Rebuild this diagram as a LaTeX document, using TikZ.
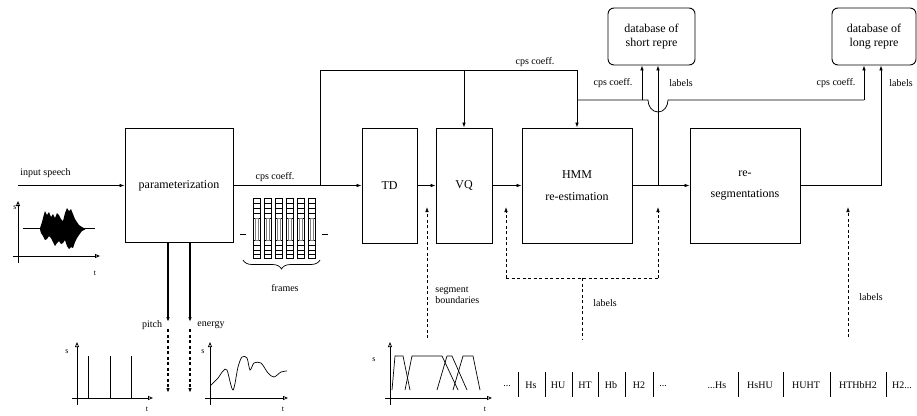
\documentclass[tikz,border=0pt]{standalone}
\usepackage{fontspec}
\setmainfont{Liberation Serif}
\usetikzlibrary{arrows.meta,decorations.pathreplacing,positioning}
\begin{document}
\begin{tikzpicture}[x=1pt,y=-1pt,
  line width=0.75pt,
  box/.style={draw,line width=0.9pt,inner sep=1pt,align=center,font=\fontsize{12}{13.5}\selectfont},
  dbbox/.style={box,rounded corners=6pt},
  lbl/.style={inner sep=0pt,align=left,font=\fontsize{10}{11.5}\selectfont},
  tiny/.style={inner sep=0pt,font=\fontsize{8}{9}\selectfont},
  arr/.style={-{Latex[length=5pt,width=3.6pt]}},
  dsh/.style={dash pattern=on 3pt off 2.5pt},
  axarr/.style={-{Triangle[open,length=5pt,width=4pt]}},
  seq/.style={inner sep=0pt,font=\fontsize{10}{11}\selectfont}
]
\useasboundingbox (0,0) rectangle (917,415);

% ---- main boxes
\node[box,minimum width=108pt,minimum height=114pt] (param) at (179,185.5) {parameterization};
\node[box,minimum width=55pt,minimum height=115pt] (TD) at (389.5,185.5) {TD};
\node[box,minimum width=56pt,minimum height=115pt] (VQ) at (464,185.5) {VQ};
\node[box,minimum width=110pt,minimum height=115pt] (HMM) at (577,185.5) {HMM\\[8pt]re-estimation};
\node[box,minimum width=110pt,minimum height=115pt] (reseg) at (745,185.5) {re-\\[8pt]segmentations};
\node[dbbox,minimum width=87pt,minimum height=57pt] (short) at (651.5,36.5) {database of\\short repre};
\node[dbbox,minimum width=84pt,minimum height=57pt] (long) at (874,36.5) {database of\\long repre};

% ---- main flow
\coordinate (in) at (18,185.5);
\draw[arr] (in) -- (param.west);
\node[lbl] (linput) at (45.5,173) {input speech};
\draw[arr] (param.east) -- (TD.west);
\node[lbl] (lcps1) at (275,177) {cps coeff.};
\draw[arr] (TD.east) -- (VQ.west);
\draw[arr] (VQ.east) -- (HMM.west);
\draw[arr] (HMM.east) -- (reseg.west);

% ---- top cps line
\coordinate (j1) at (320,185.5);
\coordinate (t1) at (320,70);
\coordinate (t2) at (577,70);
\coordinate (t3) at (464,70);
\draw (j1) -- (t1) -- (t2);
\draw[arr] (t2) -- (HMM.north);
\draw[arr] (t3) -- (VQ.north);
\node[lbl] (lcps2) at (535,62) {cps coeff.};

% ---- branch to databases with hop
\coordinate (b1) at (577,100);
\coordinate (b2) at (642,100);
\coordinate (b3) at (864,100);
\draw (b1) -- (648,100) to[out=-90,in=180] (658,112) to[out=0,in=-90] (668,100) -- (b3);
\draw[arr] (b2) -- (b2 |- short.south);
\draw[arr] (b3) -- (b3 |- long.south);
\coordinate (j2) at (658,185.5);
\draw[arr] (j2) -- (j2 |- short.south);
\coordinate (r1) at (881,185.5);
\draw[arr] (reseg.east) -- (r1) -- (r1 |- long.south);
\node[lbl] (lcps3) at (613,83) {cps coeff.};
\node[lbl] (llab1) at (681,83) {labels};
\node[lbl] (lcps4) at (836,83) {cps coeff.};
\node[lbl] (llab2) at (901,83) {labels};

% ---- dashed feedback
\coordinate (d1) at (427,338);
\coordinate (d1t) at (427,207);
\draw[arr,dsh] (d1) -- (d1t);
\node[lbl,anchor=west] (lseg) at (435,295) {segment\\boundaries};
\coordinate (d2) at (506,278);
\coordinate (d3) at (658,278);
\coordinate (d4) at (582,278);
\coordinate (d5) at (582,340);
\draw[arr,dsh] (d2) -- (506,207);
\draw[arr,dsh] (d3) -- (658,207);
\draw[dsh] (d2) -- (d3);
\draw[dsh] (d4) -- (d5);
\node[lbl] (llab3) at (605,303) {labels};
\coordinate (d6) at (848,337);
\draw[arr,dsh] (d6) -- (848,207);
\node[lbl] (llab4) at (871,297) {labels};

% ---- pitch / energy
\coordinate (p0) at (168,242.5);
\coordinate (p1) at (168,322);
\coordinate (e0) at (190,242.5);
\coordinate (e1) at (190,322);
\draw[arr,line width=1.1pt] (p0) -- (p1);
\draw[arr,line width=1.1pt] (e0) -- (e1);
\draw[arr,dsh,line width=1.1pt] (168,329) -- (168,393);
\draw[arr,dsh,line width=1.1pt] (190,329) -- (190,393);
\node[lbl] (lpitch) at (152,325) {pitch};
\node[lbl] (lenergy) at (211,325) {energy};

% ---- speech waveform
\draw[axarr,line width=0.9pt] (13,256) -- (100,256);
\draw[axarr,line width=0.9pt] (18,263) -- (18,201);
\node[tiny] (sw) at (15,208) {s};
\node[tiny] (tw) at (95,273) {t};
\draw (23,228.5) -- (95,228.5);
\fill plot coordinates {(40,228) (42,222) (44,214) (45,211) (47,215) (49,212) (51,217) (53,214) (55,218) (57,213) (59,215) (61,219) (63,221) (65,213) (67,208) (69,211) (71,209) (73,214) (75,219) (77,222) (79,225) (82,227) (85,228.5)
 (85,229.5) (82,231) (79,235) (77,238) (75,242) (73,248) (71,247) (69,249) (67,246) (65,240) (63,243) (61,244) (59,241) (57,243) (55,246) (53,242) (51,238) (49,236) (47,239) (45,240) (43,236) (41,233) (40,229.5)};

% ---- frames
\foreach \cx in {257,268,279,290,301,312}{
  \draw[line width=0.6pt] (\cx-3.5,198) rectangle (\cx+3.5,258);
  \foreach \yy in {203,208,213,218,240,245,250,254}{
    \draw[line width=0.5pt] (\cx-3.5,\yy) -- (\cx+3.5,\yy);
  }
  \draw[line width=0.4pt,gray] (\cx-1.5,218) rectangle (\cx+1.5,240);
}
\draw[line width=0.6pt] (240,234) -- (246,234);
\draw[line width=0.6pt] (322,234) -- (328,234);
\draw[decorate,decoration={brace,mirror,amplitude=9pt},line width=0.7pt] (243,260) -- (320,260);
\node[lbl] (lframes) at (285,288) {frames};

% ---- pitch plot
\draw[axarr] (72,398) -- (153,398);
\draw[axarr] (77,405) -- (77,342);
\node[tiny] (sp) at (67,352) {s};
\node[tiny] (tp) at (147,409) {t};
\foreach \sx in {88,110,131}{ \draw (\sx,398) -- (\sx,356); }

% ---- energy plot
\draw[axarr] (205,398) -- (288,398);
\draw[axarr] (210,405) -- (210,342);
\node[tiny] (se) at (203,352) {s};
\node[tiny] (te) at (283,409) {t};
\draw[line width=0.7pt] plot[smooth,tension=0.5] coordinates {(211,385) (218,378) (223,371) (227,370) (233,390) (238,367) (242,357) (247,358) (250,370) (254,363) (261,363) (268,373) (274,377) (281,372) (287,371)};

% ---- segment plot
\draw[axarr] (385,398) -- (492,398);
\draw[axarr] (390,405) -- (390,342);
\node[tiny] (ss) at (374,360) {s};
\node[tiny] (ts) at (485,409) {t};
\draw[line width=0.7pt] (392,390) -- (395,356) -- (403,356) -- (410,390);
\draw[line width=0.7pt] (405,390) -- (412,356) -- (442,356) -- (458,390);
\draw[line width=0.7pt] (437,390) -- (447,356) -- (452,356) -- (467,390);
\draw[line width=0.7pt] (453,390) -- (463,356) -- (473,356) -- (480,390);

% ---- label sequences
\foreach \bx in {518,545,572,598,625,653}{ \draw[line width=0.9pt] (\bx,372) -- (\bx,397); }
\node[seq] (q0) at (507,386) {...};
\node[seq] (q1) at (531,385) {Hs};
\node[seq] (q2) at (558,385) {HU};
\node[seq] (q3) at (585,385) {HT};
\node[seq] (q4) at (611,385) {Hb};
\node[seq] (q5) at (639,385) {H2};
\node[seq] (q6) at (663,386) {...};

\foreach \bx in {738,783,830,886}{ \draw[line width=0.9pt] (\bx,372) -- (\bx,397); }
\node[seq] (r0) at (717,385) {...Hs};
\node[seq] (r2) at (760,385) {HsHU};
\node[seq] (r3) at (806,385) {HUHT};
\node[seq] (r4) at (858,385) {HTHbH2};
\node[seq] (r5) at (902,385) {H2...};
\end{tikzpicture}
\end{document}
